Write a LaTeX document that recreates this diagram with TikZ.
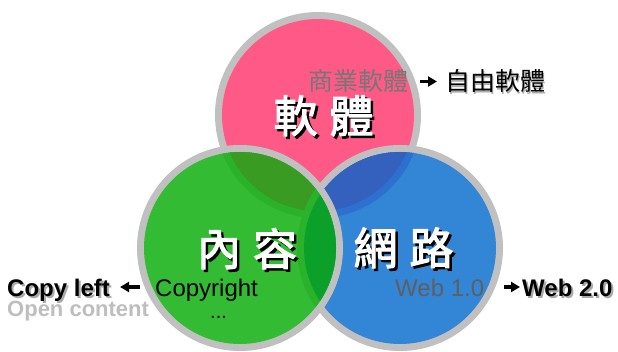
\documentclass[tikz,border=0pt]{standalone}
\usepackage{fontspec}
\setmainfont{Liberation Sans}
\newfontfamily\cjk{Noto Sans CJK TC}
\newfontfamily\cjkb[FakeBold=2.5]{Noto Sans CJK TC}
\usetikzlibrary{arrows.meta}
\definecolor{pinkc}{RGB}{255,90,135}
\definecolor{greenc}{RGB}{51,187,51}
\definecolor{bluec}{RGB}{51,133,214}
\definecolor{ringc}{RGB}{192,192,192}
\definecolor{gpink}{RGB}{58,155,35}
\definecolor{gblue}{RGB}{10,160,42}
\definecolor{bpink}{RGB}{52,96,190}
\definecolor{gring}{RGB}{42,178,42}
\definecolor{bring}{RGB}{45,112,205}
\definecolor{midgray}{RGB}{118,118,118}
\definecolor{webgray}{RGB}{95,95,95}
\definecolor{lightgray}{RGB}{190,190,190}
\definecolor{shadowgray}{RGB}{170,170,170}
% text with a drop shadow: #1 offset, #2 shadow colour, #3 text
\newcommand\myshadow[3]{\makebox[0pt][l]{\hspace{#1}\raisebox{-#1}{\color{#2}#3}}#3}
\tikzset{
  big/.style={inner sep=0pt, anchor=center, font=\cjkb\fontsize{44}{44}\selectfont, text height=33pt, text depth=0pt, text=white},
  small/.style={inner sep=0pt, anchor=west, font=\cjk\fontsize{25}{25}\selectfont, text height=19pt, text depth=0pt},
  lat/.style={inner sep=0pt, anchor=base west, font=\fontsize{24}{24}\selectfont, text height=20pt, text depth=0pt},
  latb/.style={lat, font=\bfseries\fontsize{24}{24}\selectfont},
  arr/.style={line width=3.5pt, -{Triangle[length=9pt,width=10pt]}},
}
\begin{document}
\begin{tikzpicture}[x=1pt,y=-1pt]
\useasboundingbox (0,0) rectangle (618,352);
\coordinate (P) at (318,115);
\coordinate (B) at (400,248);
\coordinate (G) at (240,248);
% pink circle
\fill[ringc] (P) circle[radius=103pt];
\fill[pinkc] (P) circle[radius=96pt];
% blue circle
\fill[ringc] (B) circle[radius=103pt];
\fill[bluec] (B) circle[radius=96pt];
\begin{scope}
  \clip (B) circle[radius=96pt];
  \fill[bring] (P) circle[radius=103pt];
  \fill[bpink] (P) circle[radius=96pt];
\end{scope}
% green circle
\fill[ringc] (G) circle[radius=103pt];
\fill[greenc] (G) circle[radius=96pt];
\begin{scope}
  \clip (G) circle[radius=96pt];
  \fill[gring] (P) circle[radius=103pt];
  \fill[gpink] (P) circle[radius=96pt];
  \fill[gring] (B) circle[radius=103pt];
  \fill[gblue] (B) circle[radius=96pt];
\end{scope}
% big titles
\node[big] (ruanti) at (323.5,116) {\myshadow{2.5pt}{black}{軟\hspace{12pt}體}};
\node[big] (neirong) at (247,249) {\myshadow{2.5pt}{black}{內\hspace{12pt}容}};
\node[big] (wanglu) at (403.5,248) {\myshadow{2.5pt}{black}{網\hspace{12pt}路}};
% software labels
\node[small, text=midgray] (shangye) at (308,81.5) {商業軟體};
\node[small, text=black] (ziyou) at (445,81.5) {\myshadow{1.2pt}{shadowgray}{自由軟體}};
\draw[arr, shorten <=12pt, shorten >=8pt] (shangye) -- (ziyou);
% content labels
\node[lat] (copyright) at (155,297) {Copyright};
\node[lat, font=\fontsize{20}{20}\selectfont] (dots) at (210,319) {...};
\node[latb] (copyleft) at (7,297) {\myshadow{2pt}{shadowgray}{Copy left}};
\node[latb, font=\bfseries\fontsize{22}{22}\selectfont, text=lightgray] (open) at (7,317) {Open content};
\draw[arr, shorten <=15pt, shorten >=10pt] (copyright) -- (copyleft);
% web labels
\node[lat, text=webgray] (web1) at (395,297) {Web 1.0};
\node[latb] (web2) at (522,297) {\myshadow{2pt}{shadowgray}{Web 2.0}};
\draw[arr, shorten <=20pt, shorten >=2pt] (web1) -- (web2);
\end{tikzpicture}
\end{document}
